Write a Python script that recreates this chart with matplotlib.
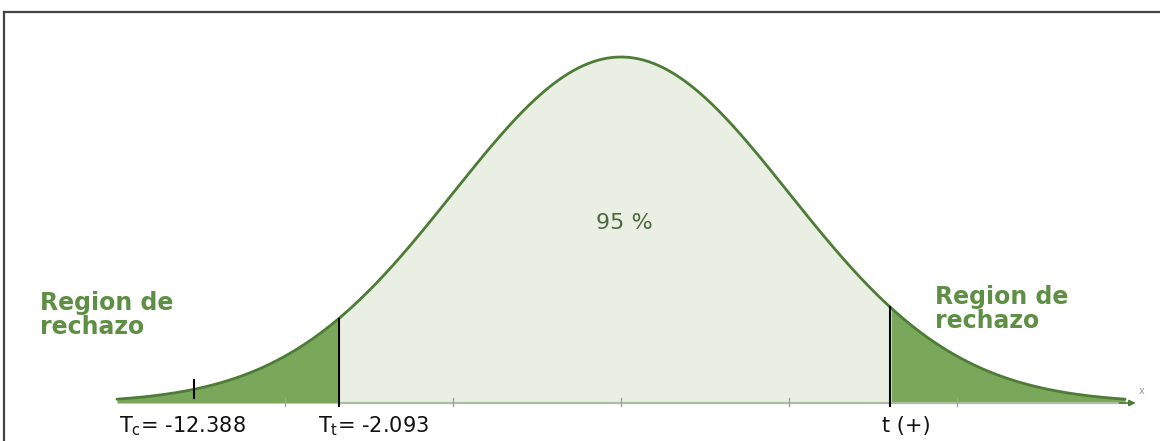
import matplotlib
matplotlib.use("Agg")
import matplotlib.pyplot as plt
import numpy as np
from matplotlib.lines import Line2D

# curve span and critical points, in standard-deviation units
z_span = [-3.0, 3.0]
z_lower = -1.68      # T_t = -2.093
z_upper = 1.60       # t (+)
z_calc = -2.54       # T_c = -12.388
axis_ticks = [-2, -1, 0, 1, 2]

label_calc = r"T$_\mathrm{c}$= -12.388"
label_lower = r"T$_\mathrm{t}$= -2.093"
label_upper = "t (+)"
label_center = "95 %"
label_region = "Region de\nrechazo"

colors = {
    "line": "#4e7c36",
    "tail": "#79a85b",
    "center": "#e9f0e3",
    "axis": "#adbda0",
    "text": "#5e8f44",
    "pct": "#4d6a3e",
    "frame": "#444444",
}

plt.rcParams["font.family"] = ["DejaVu Sans"]

fig = plt.figure(figsize=(11.6, 4.41), dpi=100)
ax = fig.add_axes([0, 0, 1, 1])
ax.set_xlim(-3.696, 3.208)
ax.set_ylim(-0.1098, 1.1647)
ax.axis("off")

z = np.linspace(z_span[0], z_span[1], 600)
dens = np.exp(-z ** 2 / 2)

left = z <= z_lower
mid = (z >= z_lower) & (z <= z_upper)
right = z >= z_upper
ax.fill_between(z[left], 0, dens[left], color=colors["tail"], lw=0, zorder=1)
ax.fill_between(z[mid], 0, dens[mid], color=colors["center"], lw=0, zorder=1)
ax.fill_between(z[right], 0, dens[right], color=colors["tail"], lw=0, zorder=1)

# horizontal axis with arrow
ax.plot([z_lower, z_span[1]], [0, 0], color=colors["axis"], lw=1.6, zorder=2)
ax.annotate("", xy=(z_span[1] + 0.08, 0), xytext=(z_span[1] - 0.05, 0),
            arrowprops=dict(arrowstyle="-|>", color=colors["line"], lw=1.2,
                            mutation_scale=9), zorder=3)
ax.text(z_span[1] + 0.1, 0.035, "x", fontsize=7, color="#999999",
        ha="center", va="center")
for t in axis_ticks:
    ax.plot([t, t], [-0.008, 0.014], color="#a0a0a0", lw=1.0, zorder=2)

ax.plot(z, dens, color=colors["line"], lw=2.0, zorder=4, solid_capstyle="round")

# critical lines
for zc in (z_lower, z_upper):
    ax.plot([zc, zc], [-0.01, np.exp(-zc ** 2 / 2)], color="black", lw=1.5, zorder=5)
ax.plot([z_calc, z_calc], [0.015, 0.066], color="black", lw=1.5, zorder=5)

# labels under the axis
ax.text(z_calc - 0.07, -0.085, label_calc, fontsize=15, ha="center", va="baseline", color="#111111")
ax.text(z_lower + 0.21, -0.085, label_lower, fontsize=15, ha="center", va="baseline", color="#111111")
ax.text(z_upper + 0.1, -0.085, label_upper, fontsize=15, ha="center", va="baseline", color="#111111")

ax.text(0.02, 0.52, label_center, fontsize=16, ha="center", va="center",
        color=colors["pct"], fontweight="medium")

ax.text(-3.455, 0.325, label_region, fontsize=17, fontweight="bold", ha="left",
        va="top", color=colors["text"], linespacing=1.0)
ax.text(1.87, 0.34, label_region, fontsize=17, fontweight="bold", ha="left",
        va="top", color=colors["text"], linespacing=1.0)

# partial frame: left and top border
fx = 4 / 1160
fy = 1 - 12 / 441
fig.add_artist(Line2D([fx, fx], [0, fy], transform=fig.transFigure,
                      color=colors["frame"], lw=1.6))
fig.add_artist(Line2D([fx, 1], [fy, fy], transform=fig.transFigure,
                      color=colors["frame"], lw=1.6))

fig.savefig("out.png", dpi=100, facecolor="white")
